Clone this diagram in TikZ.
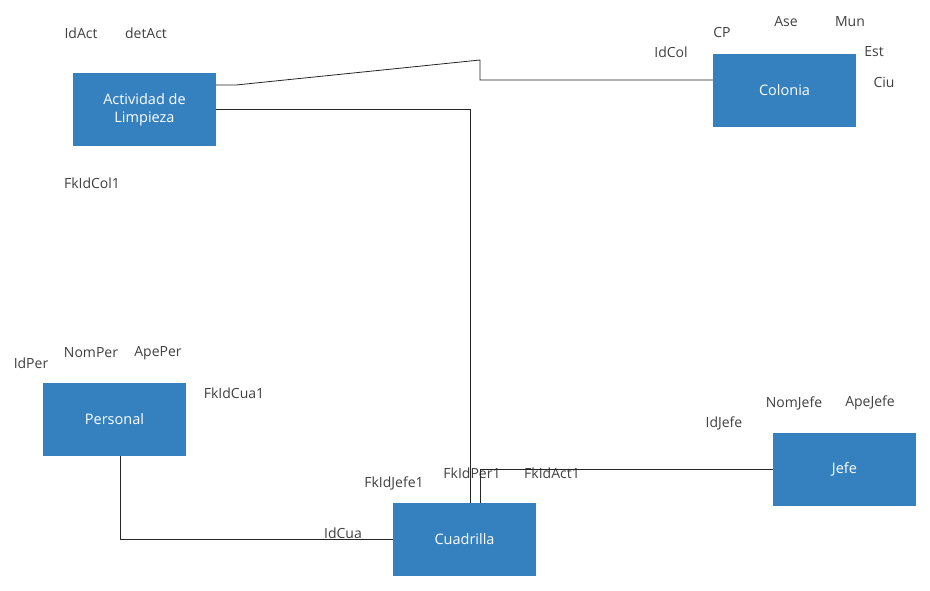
\documentclass[tikz,border=0pt]{standalone}
\usepackage{fontspec}
\setmainfont{Open Sans}
\usetikzlibrary{positioning}
\definecolor{boxblue}{RGB}{53,129,191}
\definecolor{attrgray}{RGB}{64,64,64}

\begin{document}
\begin{tikzpicture}[x=1pt, y=-1pt,
    entity/.style={rectangle, fill=boxblue, text=white, minimum width=143pt, minimum height=73pt, inner sep=0pt, align=center, font=\fontsize{14.5}{17.5}\selectfont},
    attr/.style={text=attrgray, inner sep=0pt, font=\fontsize{14}{16}\selectfont},
    link/.style={draw=black!85, line width=0.8pt}]
            \useasboundingbox[fill=white] (0,0) rectangle (930,590);
            % Define blocks
            \node [entity] (act) at (144.5,109.5) {Actividad de\\Limpieza};
            \node [entity] (col) at (784.5,90) {Colonia};
            \node [entity] (per) at (114.5,419.5) {Personal};
            \node [entity] (jefe) at (844.5,469.5) {Jefe};
            \node [entity] (cua) at (464.5,539.5) {Cuadrilla};

            % Define attributes
            \node [attr] (idact) at (81,33) {IdAct};
            \node [attr] (detact) at (146,33) {detAct};
            \node [attr] (fkidcol) at (92,183) {FkIdCol1};
            \node [attr] (idcol) at (671,52) {IdCol};
            \node [attr] (cp) at (722,32) {CP};
            \node [attr] (ase) at (786,22) {Ase};
            \node [attr] (mun) at (850,22) {Mun};
            \node [attr] (est) at (874,52) {Est};
            \node [attr] (ciu) at (884,82) {Ciu};
            \node [attr] (idper) at (31,363) {IdPer};
            \node [attr] (nomper) at (91,353) {NomPer};
            \node [attr] (apeper) at (158,353) {ApePer};
            \node [attr] (fkidcua) at (234,393) {FkIdCua1};
            \node [attr] (idjefe) at (724,423) {IdJefe};
            \node [attr] (nomjefe) at (794,403) {NomJefe};
            \node [attr] (apejefe) at (870,403) {ApeJefe};
            \node [attr] (fkidjefe) at (394,483) {FkIdJefe1};
            \node [attr] (fkidper) at (472,473) {FkIdPer1};
            \node [attr] (fkidact) at (552,473) {FkIdAct1};
            \node [attr] (idcua) at (343,533) {IdCua};

            % Define connectors
            \coordinate (bendA) at (236,85);
            \coordinate (bendB) at (480,60);
            \coordinate (bendC) at (480,80);
            \draw [link] (act.east |- bendA) -- (bendA) -- (bendB) -- (bendC) -- (col.west |- bendC);
            \draw [link] (act.east) -| ([xshift=5.5pt]cua.north);
            \draw [link] (jefe.west) -| ([xshift=15.5pt]cua.north);
            \draw [link] ([xshift=5.5pt]per.south) |- (cua.west);
\end{tikzpicture}
\end{document}
